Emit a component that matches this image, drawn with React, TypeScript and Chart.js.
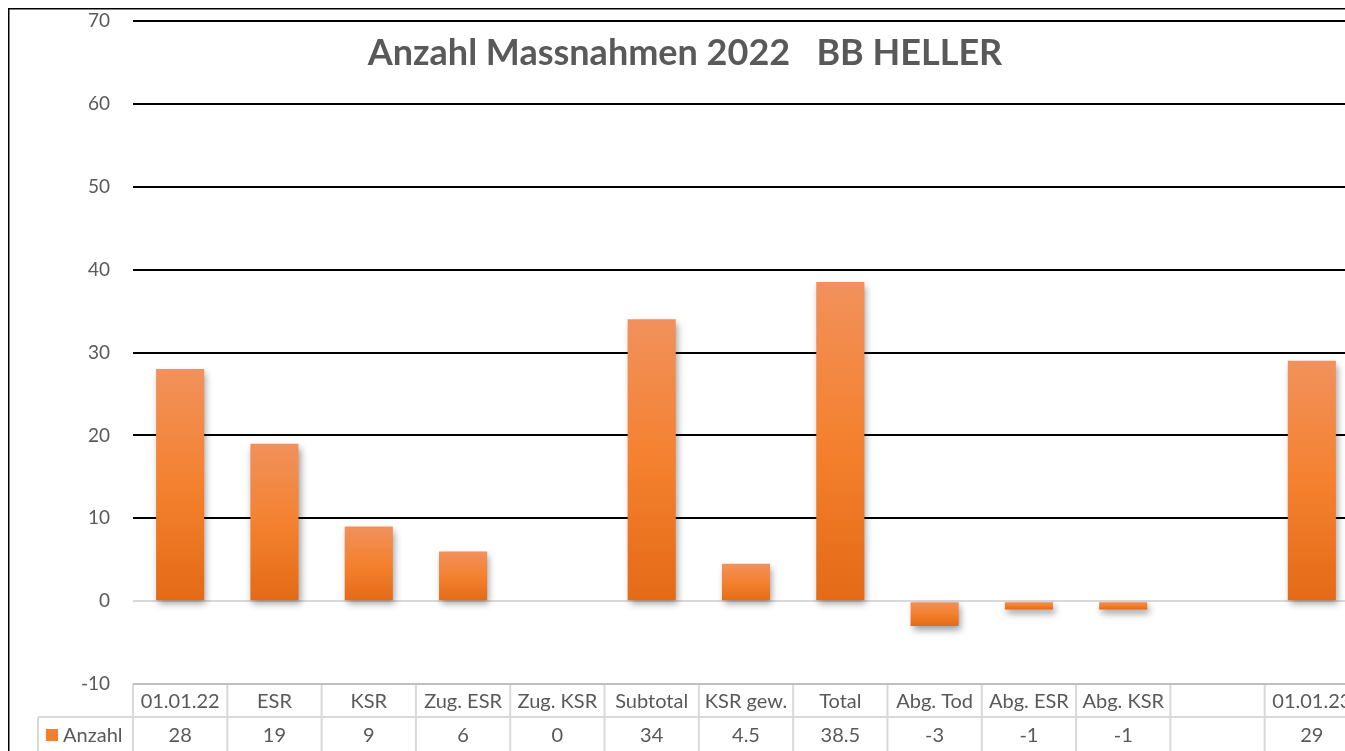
import React, { useEffect, useRef } from "react";
import { Chart, registerables } from "chart.js";

Chart.register(...registerables);

const categories = ["01.01.22", "ESR", "KSR", "Zug. ESR", "Zug. KSR", "Subtotal", "KSR gew.", "Total", "Abg. Tod", "Abg. ESR", "Abg. KSR", "", "01.01.23"];
const anzahl: (number | null)[] = [28, 19, 9, 6, 0, 34, 4.5, 38.5, -3, -1, -1, null, 29];
const seriesName = "Anzahl";
const titleText = "Anzahl Massnahmen 2022   BB HELLER";
const yMin = -10;
const yMax = 70;
const yStep = 10;

const FONT = "Lato, 'Open Sans', sans-serif";
const TEXT = "#595959";

const CANVAS_W = 1380;
const CANVAS_H = 770;

export default function App() {
  const ref = useRef<HTMLCanvasElement | null>(null);

  useEffect(() => {
    const canvas = ref.current;
    if (!canvas) return;

    const framePlugin = {
      id: "frame",
      beforeDatasetsDraw(chart: any) {
        const ctx = chart.ctx;
        ctx.save();
        ctx.shadowColor = "rgba(0,0,0,0.38)";
        ctx.shadowBlur = 7;
        ctx.shadowOffsetX = 2;
        ctx.shadowOffsetY = 4;
      },
      afterDatasetsDraw(chart: any) {
        chart.ctx.restore();
      },
      afterDraw(chart: any) {
        const ctx = chart.ctx;
        const xs = chart.scales.x;
        const area = chart.chartArea;
        ctx.save();
        // frame border
        ctx.strokeStyle = "#000";
        ctx.lineWidth = 1.5;
        ctx.strokeRect(0.75, 0.75, CANVAS_W + 20, CANVAS_H + 20);

        // title
        ctx.fillStyle = TEXT;
        ctx.font = `bold 36px ${FONT}`;
        ctx.textAlign = "center";
        ctx.textBaseline = "middle";
        ctx.fillText(titleText, 677, 45);

        // data table
        const n = categories.length;
        const w = (area.right - area.left) / n;
        const top = area.bottom;
        const rowH = 33;
        const r1 = top + rowH;
        const r2 = r1 + rowH + 12;
        const legendLeft = 30;
        ctx.strokeStyle = "#d9d9d9";
        ctx.lineWidth = 2;
        ctx.beginPath();
        ctx.moveTo(area.left, r1);
        ctx.lineTo(area.right, r1);
        ctx.moveTo(legendLeft, r1);
        ctx.lineTo(area.left, r1);
        ctx.moveTo(legendLeft, r1);
        ctx.lineTo(legendLeft, r2);
        ctx.moveTo(legendLeft, r2);
        ctx.lineTo(area.right, r2);
        for (let i = 0; i <= n; i++) {
          const x = area.left + i * w;
          ctx.moveTo(x, top);
          ctx.lineTo(x, r2);
        }
        ctx.stroke();
        ctx.strokeStyle = "#bfbfbf";
        ctx.beginPath();
        ctx.moveTo(area.left, top);
        ctx.lineTo(area.right, top);
        ctx.stroke();

        ctx.fillStyle = TEXT;
        ctx.font = `20px ${FONT}`;
        ctx.textAlign = "center";
        ctx.textBaseline = "middle";
        for (let i = 0; i < n; i++) {
          const cx = xs.getPixelForValue(i);
          ctx.fillText(categories[i], cx, top + rowH / 2 + 1);
          const v = anzahl[i];
          if (v !== null && v !== undefined) {
            ctx.fillText(String(v), cx, r1 + rowH / 2 + 2);
          }
        }
        // legend key
        ctx.fillStyle = "#f07f2f";
        ctx.fillRect(38, r1 + 12, 12, 12);
        ctx.fillStyle = TEXT;
        ctx.textAlign = "left";
        ctx.fillText(seriesName, 55, r1 + rowH / 2 + 2);
        ctx.restore();
      },
    };

    const chart = new Chart(canvas, {
      type: "bar",
      data: {
        labels: categories,
        datasets: [
          {
            label: seriesName,
            data: anzahl as any,
            barPercentage: 0.51,
            categoryPercentage: 1,
            borderWidth: 0,
            backgroundColor: (c: any) => {
              const chart = c.chart;
              const ys = chart.scales?.y;
              if (!chart.chartArea || !ys || c.raw === null || c.raw === undefined) return "#f47f30";
              const p0 = ys.getPixelForValue(0);
              const p1 = ys.getPixelForValue(c.raw);
              const a = Math.min(p0, p1);
              const b = Math.max(p0, p1);
              const g = chart.ctx.createLinearGradient(0, a, 0, b + 0.01);
              g.addColorStop(0, "#f1915c");
              g.addColorStop(0.5, "#f4812f");
              g.addColorStop(1, "#e46a16");
              return g;
            },
          },
        ],
      },
      options: {
        responsive: false,
        animation: false,
        devicePixelRatio: 1,
        layout: { padding: { top: 13, right: CANVAS_W - 1351, bottom: CANVAS_H - 676, left: 0 } },
        plugins: {
          legend: { display: false },
          title: { display: false },
          tooltip: { enabled: false },
        },
        scales: {
          x: {
            display: false,
            grid: { display: false },
          },
          y: {
            min: yMin,
            max: yMax,
            afterFit(scale: any) {
              scale.width = 125;
              scale.paddingTop = 0;
              scale.paddingBottom = 0;
            },
            border: { display: false },
            grid: {
              drawTicks: false,
              lineWidth: 2,
              color: (c: any) => {
                const v = c.tick?.value;
                if (v === 0) return "#d9d9d9";
                if (v === yMin) return "rgba(0,0,0,0)";
                return "#000";
              },
            },
            ticks: {
              stepSize: yStep,
              padding: 23,
              color: TEXT,
              font: { family: FONT, size: 19 },
            },
          },
        },
      },
      plugins: [framePlugin],
    });

    return () => chart.destroy();
  }, []);

  return (
    <div style={{ position: "fixed", top: 8, left: 8, width: 1337, height: 743, overflow: "hidden" }}>
      <canvas ref={ref} width={CANVAS_W} height={CANVAS_H} style={{ display: "block", width: CANVAS_W, height: CANVAS_H }} />
    </div>
  );
}
